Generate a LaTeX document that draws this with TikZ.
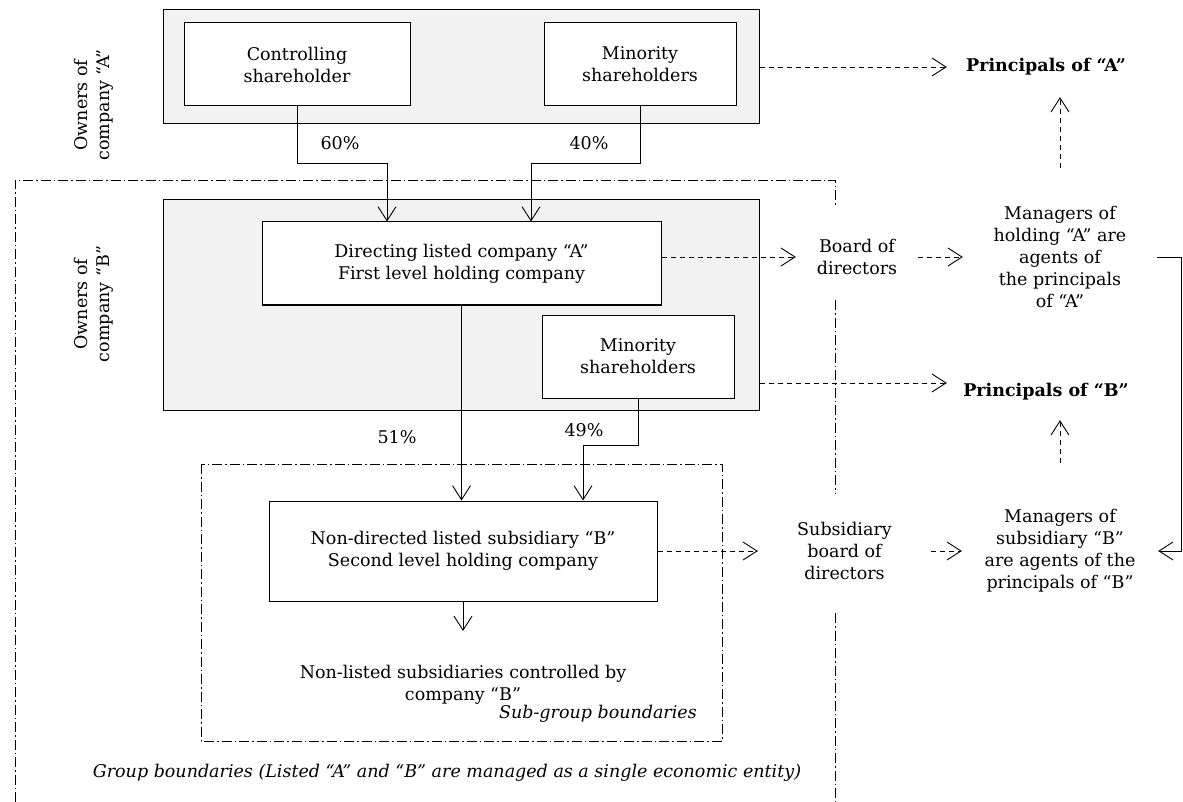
\documentclass[tikz,border=0pt]{standalone}
\usepackage{fontspec}
\setmainfont{DejaVu Serif}
\usetikzlibrary{arrows.meta}
\definecolor{boxgray}{HTML}{F2F2F2}
\begin{document}
\begin{tikzpicture}[x=1pt,y=-1pt,
  every node/.style={font=\fontsize{17.5}{22}\selectfont, align=center, inner sep=0pt},
  box/.style={draw, line width=1pt, fill=white},
  graybox/.style={draw, line width=1pt, fill=boxgray},
  conn/.style={line width=0.9pt, -{Straight Barb[length=14pt,width=18pt]}},
  dconn/.style={conn, dash pattern=on 5pt off 4pt},
  bound/.style={line width=0.8pt, dash pattern=on 10pt off 3pt on 1.5pt off 3pt},
  pct/.style={},
  bold/.style={font=\fontsize{17.5}{22}\selectfont\bfseries},
  ital/.style={font=\fontsize{17.5}{22}\selectfont\itshape}
]
\useasboundingbox (0,0) rectangle (1183,802);

% group boundary
\draw[bound] (15,802) -- (15,180) -- (835,180) -- (835,208);
\draw[bound] (835,300) -- (835,493);
\draw[bound] (835,613) -- (835,802);
% sub-group boundary
\draw[bound] (201,464) rectangle (722,741);

% gray containers
\node[graybox, minimum width=596pt, minimum height=114pt] (grayA) at (461,67) {};
\node[graybox, minimum width=596pt, minimum height=210pt] (grayB) at (461,305) {};

% boxes
\node[box, minimum width=226pt, minimum height=83pt] (ctrl) at (297,64.5) {Controlling\\shareholder};
\node[box, minimum width=192pt, minimum height=83pt] (minA) at (640,64.5) {Minority\\shareholders};
\node[box, minimum width=399pt, minimum height=83pt] (dir) at (461.5,263.5) {Directing listed company ``A''\\First level holding company};
\node[box, minimum width=192pt, minimum height=83pt] (minB) at (638,356.5) {Minority\\shareholders};
\node[box, minimum width=388pt, minimum height=100pt] (nondir) at (463,551) {Non-directed listed subsidiary ``B''\\Second level holding company};
\node (nonlisted) at (463,685) {Non-listed subsidiaries controlled by\\company ``B''};
\coordinate (nonlistedin) at (463,631);

% side labels
\node[rotate=90] (ownA) at (94,105) {Owners of\\company ``A''};
\node[rotate=90] (ownB) at (94,304) {Owners of\\company ``B''};

% percentages
\node[pct] (p60) at (340,143) {60\%};
\node[pct] (p40) at (589,143) {40\%};
\node[pct] (p51) at (397,437) {51\%};
\node[pct] (p49) at (584,430) {49\%};

% right column
\node[bold, minimum width=198pt, minimum height=60pt] (prA) at (1046,67) {Principals of ``A''};
\node[minimum width=122pt] (boardA) at (857,257) {Board of\\directors};
\node[minimum width=194pt, minimum height=178pt] (manA) at (1060,257) {Managers of\\holding ``A'' are\\agents of\\the principals\\of ``A''};
\node[bold, minimum width=198pt, minimum height=56pt] (prB) at (1046,392) {Principals of ``B''};
\node[minimum width=173pt] (subB) at (844.5,551) {Subsidiary\\board of\\directors};
\node[minimum width=196pt, minimum height=176pt] (manB) at (1060,551) {Managers of\\subsidiary ``B''\\are agents of the\\principals of ``B''};

% italic boundary labels
\node[ital, anchor=east] (subgl) at (697,714) {Sub-group boundaries};
\node[ital] (groupl) at (447,773) {Group boundaries (Listed ``A'' and ``B'' are managed as a single economic entity)};

% ownership connectors
\draw[conn] (ctrl.south) -- ++(0,57) -| ([xshift=-74.5pt]dir.north);
\draw[conn] (minA.south) -- ++(0,57) -| ([xshift=69.5pt]dir.north);
\draw[conn] (dir.south) -- (dir.south |- nondir.north);
\draw[conn] (minB.south) -- ++(0,46.5) -| ([xshift=120pt]nondir.north);
\draw[conn] (nondir.south) -- (nonlistedin);

% agency connectors
\draw[dconn] (grayA.east) -- (prA.west);
\draw[dconn] ([yshift=6.5pt]dir.east) -- (boardA.west);
\draw[dconn] (boardA.east) -- (manA.west);
\draw[dconn] (manA.north) -- (manA.north |- prA.south);
\draw[dconn] ([yshift=-78pt]grayB.east) -- ([yshift=-78pt]grayB.east -| prB.west);
\draw[dconn] (nondir.east) -- (subB.west);
\draw[dconn] (subB.east) -- (manB.west);
\draw[dconn] (manB.north) -- (manB.north |- prB.south);
\draw[conn] (manA.east) -- ++(24,0) |- (manB.east);
\end{tikzpicture}
\end{document}
